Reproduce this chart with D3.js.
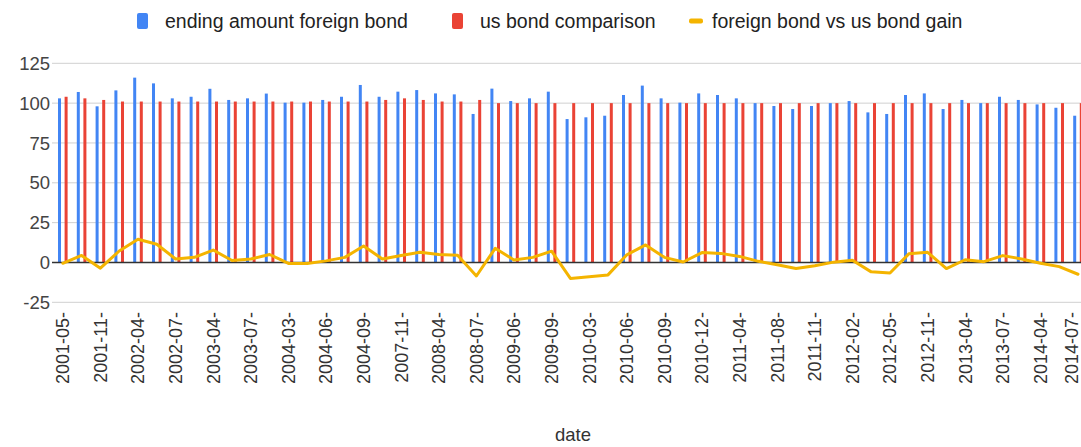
<!DOCTYPE html>
<html>
<head>
<meta charset="utf-8">
<script src="https://cdn.jsdelivr.net/npm/d3@7"></script>
<style>
  html, body { margin: 0; padding: 0; background: #fff; }
  svg { display: block; font-family: "Liberation Sans", Arial, sans-serif; }
</style>
</head>
<body>
<svg id="chart" width="1081" height="447"></svg>
<script>
// ---- data ----
const seriesNames = ["ending amount foreign bond", "us bond comparison", "foreign bond vs us bond gain"];
const tickLabels = ["2001-05-", "2001-11-", "2002-04-", "2002-07-", "2003-04-", "2003-07-", "2004-03-",
  "2004-06-", "2004-09-", "2007-11-", "2008-04-", "2008-07-", "2009-06-", "2009-09-", "2010-03-",
  "2010-06-", "2010-09-", "2010-12-", "2011-04-", "2011-08-", "2011-11-", "2012-02-", "2012-05-",
  "2012-11-", "2013-04-", "2013-07-", "2014-04-", "2014-07-"];
const foreignBond = [103, 107, 98, 108, 116, 112.4, 103, 104, 109, 102, 103, 106, 100.3, 100.3, 102, 104,
  111.4, 104, 107.2, 108.2, 106.1, 105.5, 93.2, 109.1, 101.3, 103, 107.2, 90, 91.1, 92.1, 105.1, 111,
  103, 100.3, 106.1, 105.1, 103, 100, 98.2, 96.3, 98.2, 100, 101.3, 94.2, 93.2, 105.1, 106.1, 96.3,
  102, 100, 104, 102, 99.2, 97.1, 92.1];
const usBond = [104, 103, 102, 101, 101, 101, 101, 101, 101, 101, 101, 101, 101, 101, 101, 101,
  101, 102, 103, 102, 101, 101, 102, 100, 100, 100, 100, 100, 100, 100, 100, 100,
  100, 100, 100, 100, 100, 100, 100, 100, 100, 100, 100, 100, 100, 100, 100, 100,
  100, 100, 100, 100, 100, 100, 100];
const gain = [-0.5, 4.4, -3.6, 7.2, 14.6, 11.4, 2.2, 3.2, 7.8, 1.2, 2.2, 5, -0.6, -0.6, 1, 3.2,
  10.3, 2.2, 4.4, 6.4, 5, 4.5, -8.5, 8.9, 1.6, 3.2, 7.1, -10, -9, -7.8, 4.8, 11,
  3.2, 0.3, 6.2, 5.7, 3.8, 0.7, -1.4, -3.8, -2, 0.2, 1.4, -5.9, -6.6, 5.4, 6.4, -3.8,
  1.7, 0.5, 4.3, 2.2, -0.5, -2.6, -7.4];
const yTicks = [-25, 0, 25, 50, 75, 100, 125];
const xTitle = "date";

// ---- styles ----
const colors = ["#4285F4", "#EA4335", "#F4B400"];
const W = 1081, H = 447;
const svg = d3.select("#chart");

const n = foreignBond.length;
const x = d3.scaleBand().domain(d3.range(n)).range([53.4, 1087.4]).padding(0);
const bw = x.bandwidth();
const x1 = d3.scaleBand().domain([0, 1]).range([bw / 2 - 4.8, bw / 2 + 4.8]).paddingInner(0.545).paddingOuter(0);
const y = d3.scaleLinear().domain([-25, 125]).range([302.3, 63.3]);

// gridlines
svg.append("g").selectAll("line").data(yTicks.filter(d => d !== 0)).join("line")
  .attr("x1", 52).attr("x2", W)
  .attr("y1", d => y(d)).attr("y2", d => y(d))
  .attr("stroke", "#d0d0d0").attr("stroke-width", 1);

// y axis labels
svg.append("g").selectAll("text").data(yTicks).join("text")
  .attr("x", 50).attr("y", d => y(d)).attr("dy", "0.36em")
  .attr("text-anchor", "end").attr("font-size", 18.5).attr("fill", "#444")
  .text(d => d);

// bars
const barData = [];
for (let i = 0; i < n; i++) {
  barData.push({ i, s: 0, v: foreignBond[i] });
  barData.push({ i, s: 1, v: usBond[i] });
}
svg.append("g").selectAll("rect").data(barData).join("rect")
  .attr("x", d => x(d.i) + x1(d.s))
  .attr("width", x1.bandwidth())
  .attr("y", d => y(Math.max(0, d.v)))
  .attr("height", d => Math.abs(y(d.v) - y(0)))
  .attr("fill", d => colors[d.s]);

// zero line
svg.append("line").attr("x1", 52).attr("x2", W).attr("y1", y(0)).attr("y2", y(0))
  .attr("stroke", "#333").attr("stroke-width", 1.5);

// gain line
const line = d3.line().x((d, i) => x(i) + bw / 2).y(d => y(d));
svg.append("path").datum(gain).attr("d", line)
  .attr("fill", "none").attr("stroke", colors[2]).attr("stroke-width", 3)
  .attr("stroke-linejoin", "round").attr("stroke-linecap", "round");

// x labels (every 2 categories), kept inside the picture
svg.append("g").selectAll("text").data(tickLabels).join("text")
  .attr("transform", (d, k) => `translate(${Math.min(x(k * 2) + bw / 2, W - 9)},312) rotate(-90)`)
  .attr("dy", "0.36em").attr("text-anchor", "end")
  .attr("font-size", 18).attr("fill", "#333")
  .text(d => d);

// x title
svg.append("text").attr("x", 573).attr("y", 441).attr("text-anchor", "middle")
  .attr("font-size", 18.5).attr("fill", "#333").text(xTitle);

// legend
const legendX = [137, 452, 689];
const lg = svg.append("g").selectAll("g").data(seriesNames).join("g")
  .attr("transform", (d, k) => `translate(${legendX[k]},21)`);
lg.each(function (d, k) {
  const g = d3.select(this);
  if (k < 2) {
    g.append("rect").attr("x", 0).attr("y", -8).attr("width", 11).attr("height", 16)
      .attr("rx", 2).attr("fill", colors[k]);
  } else {
    g.append("rect").attr("x", 0).attr("y", -2.5).attr("width", 14).attr("height", 5)
      .attr("rx", 2).attr("fill", colors[k]);
  }
  g.append("text").attr("x", k < 2 ? 28 : 23).attr("y", 0).attr("dy", "0.36em")
    .attr("font-size", 19.5).attr("fill", "#222").text(d);
});
</script>
</body>
</html>
